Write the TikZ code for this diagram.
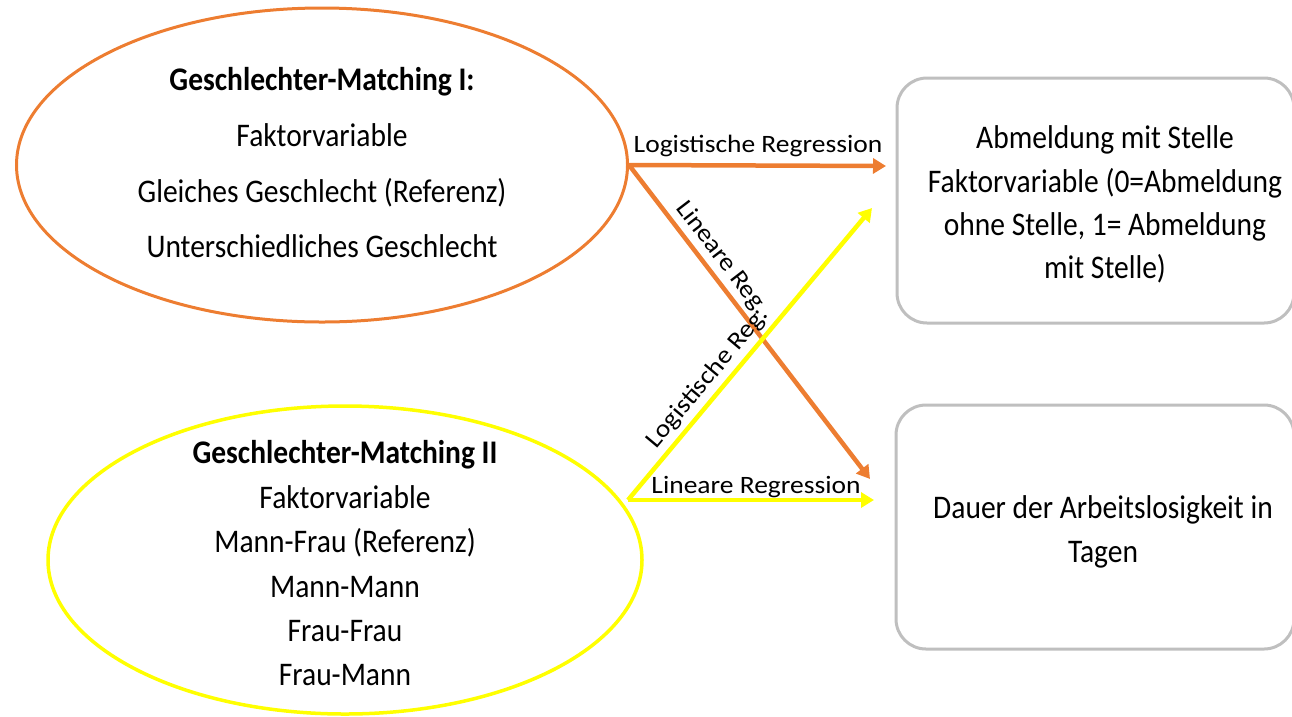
\documentclass[tikz,border=0pt]{standalone}
\usepackage{fontspec}
\setmainfont{Carlito}[FakeStretch=0.894]
\newfontfamily\labelfont{Carlito}[FakeStretch=1.1]
\usetikzlibrary{arrows.meta,shapes.geometric}
\definecolor{orangeline}{HTML}{ED7D31}
\definecolor{yellowline}{HTML}{FFFF00}
\definecolor{boxgray}{HTML}{BFBFBF}
\begin{document}
\begin{tikzpicture}[x=1pt,y=-1pt,
  oval/.style={ellipse, line width=3pt, inner sep=0pt},
  outbox/.style={draw=boxgray, line width=3pt, rounded corners=30pt, inner sep=0pt},
  txt/.style={font=\fontsize{33}{44}\selectfont, inner sep=0pt, anchor=base},
  lbl/.style={font=\labelfont\fontsize{25}{30}\selectfont, text=black, inner sep=0pt, anchor=base},
  slbl/.style={font=\labelfont\fontsize{25}{30}\selectfont, text=black, inner sep=4pt, sloped, above},
  link/.style={line width=4.5pt, -{Triangle[length=13pt,width=15pt]}}]
\useasboundingbox (0,0) rectangle (1292,716);

% predictor ellipses
\node[oval, draw=orangeline, minimum width=611pt, minimum height=314pt] (gm1) at (322,165) {};
\node[oval, draw=yellowline, line width=3.5pt, minimum width=594pt, minimum height=308pt] (gm2) at (345,560) {};

% outcome boxes
\node[outbox, minimum width=397pt, minimum height=245pt] (out1) at (1095.5,200.5) {};
\node[outbox, minimum width=398pt, minimum height=244pt] (out2) at (1095,527) {};

% text of the first ellipse
\node[txt, font=\fontsize{33}{44}\selectfont\bfseries] (gm1a) at (322,90) {Geschlechter-Matching I:};
\node[txt] (gm1b) at (322,146) {Faktorvariable};
\node[txt] (gm1c) at (322,202) {Gleiches Geschlecht (Referenz)};
\node[txt] (gm1d) at (322,257) {Unterschiedliches Geschlecht};

% text of the second ellipse
\node[txt, font=\fontsize{33}{44}\selectfont\bfseries] (gm2a) at (345,463) {Geschlechter-Matching II};
\node[txt] (gm2b) at (345,508) {Faktorvariable};
\node[txt] (gm2c) at (345,552) {Mann-Frau (Referenz)};
\node[txt] (gm2d) at (345,597) {Mann-Mann};
\node[txt] (gm2e) at (345,641) {Frau-Frau};
\node[txt] (gm2f) at (345,685) {Frau-Mann};

% text of the outcome boxes
\node[txt] (out1a) at (1105,148) {Abmeldung mit Stelle};
\node[txt] (out1b) at (1105,192) {Faktorvariable (0=Abmeldung};
\node[txt] (out1c) at (1105,235) {ohne Stelle, 1= Abmeldung};
\node[txt] (out1d) at (1105,278) {mit Stelle)};
\node[txt] (out2a) at (1103,518) {Dauer der Arbeitslosigkeit in};
\node[txt] (out2b) at (1103,562) {Tagen};

% arrow end points
\coordinate (o1e) at (886,166);
\coordinate (o2e) at (870,479);
\coordinate (ys) at (628,500);
\coordinate (y1e) at (872,208);
\coordinate (y2e) at (874,500);

% regressions
\draw[link, orangeline] (gm1.east) -- (o1e);
\node[lbl] (l1) at (758,152) {Logistische Regression};
\draw[link, orangeline] (gm1.east) -- node[slbl, pos=0.33] (l2) {Lineare Reg.} (o2e);
\draw[link, yellowline] (ys) -- node[slbl, pos=0.38] (l3) {Logistische Reg.} (y1e);
\draw[link, yellowline] (ys) -- (y2e);
\node[lbl] (l4) at (756,493) {Lineare Regression};
\end{tikzpicture}
\end{document}
